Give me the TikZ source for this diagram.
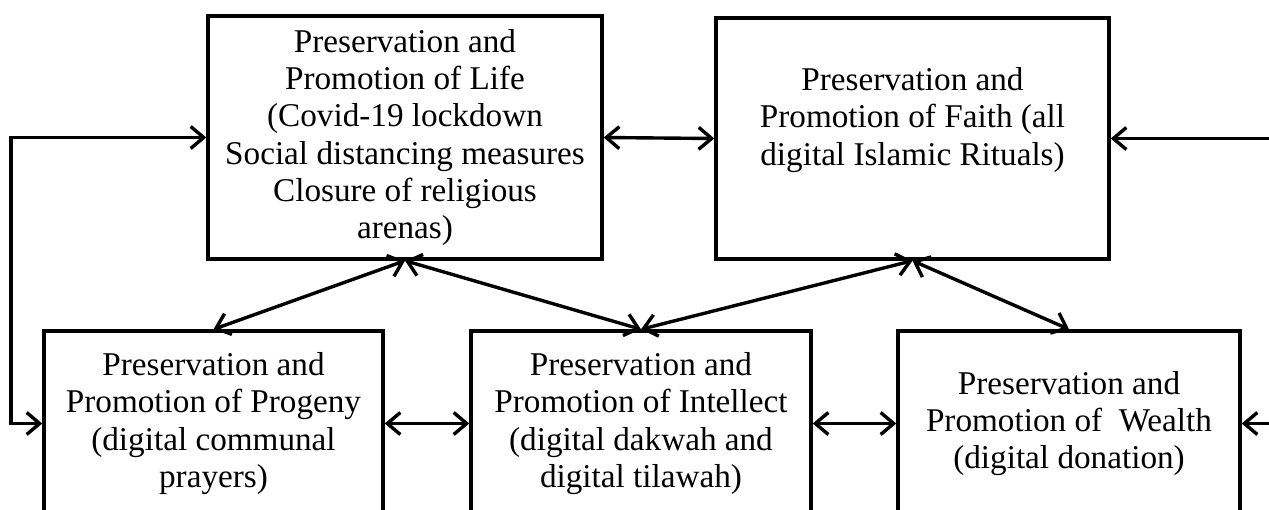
\documentclass[tikz,border=0pt]{standalone}
\usepackage{fontspec}
\setmainfont{Liberation Serif}
\usetikzlibrary{arrows.meta}

\begin{document}
\begin{tikzpicture}[x=0.5pt,y=-0.5pt,
		box/.style={draw,line width=1.7pt,inner sep=0pt,align=center,font=\fontsize{16.6}{18.6}\selectfont},
		boxtext/.style={inner sep=0pt,align=center,font=\fontsize{16.6}{18.6}\selectfont},
		tip/.tip={Straight Barb[length=6.5pt,width=11pt]},
		link/.style={line width=1.7pt,tip-tip},
		feed/.style={line width=1.7pt,-tip}
	]
	\clip (0,0) rectangle (1269,509);
	% top row
	\node[box,minimum width=197pt,minimum height=121.5pt] (life) at (405,137.5)
	{Preservation and\\Promotion of Life\\(Covid-19 lockdown\\Social distancing measures\\Closure of religious\\arenas)};
	\node[box,minimum width=196.5pt,minimum height=120.5pt] (faith) at (912.5,138.5) {};
	\node[boxtext] (faithtext) at (912.5,120)
	{Preservation and\\Promotion of Faith (all\\digital Islamic Rituals)};
	% bottom row
	\node[box,minimum width=169.5pt,minimum height=92.5pt] (progeny) at (213.5,423.5)
	{Preservation and\\Promotion of Progeny\\(digital communal\\prayers)};
	\node[box,minimum width=170pt,minimum height=92.5pt] (intellect) at (641,423.5)
	{Preservation and\\Promotion of Intellect\\(digital dakwah and\\digital tilawah)};
	\node[box,minimum width=171pt,minimum height=92.5pt] (wealth) at (1069,423.5)
	{Preservation and\\Promotion of~ Wealth\\(digital donation)};
	% links
	\coordinate (leftrail) at (11,0);
	\coordinate (rightfaith) at (1290,138.5);
	\coordinate (rightwealth) at (1290,423.5);
	\draw[link] (life.west) -- (life.west -| leftrail) -- (progeny.west -| leftrail) -- (progeny.west);
	\draw[feed] (rightfaith) -- (faith.east);
	\draw[feed] (rightwealth) -- (wealth.east);
	\draw[link] (life.east) -- (faith.west);
	\draw[link] (progeny.east) -- (intellect.west);
	\draw[link] (intellect.east) -- (wealth.west);
	\draw[link] (life.south) -- (progeny.north);
	\draw[link] (life.south) -- (intellect.north);
	\draw[link] (faith.south) -- (intellect.north);
	\draw[link] (faith.south) -- (wealth.north);
\end{tikzpicture}
\end{document}
